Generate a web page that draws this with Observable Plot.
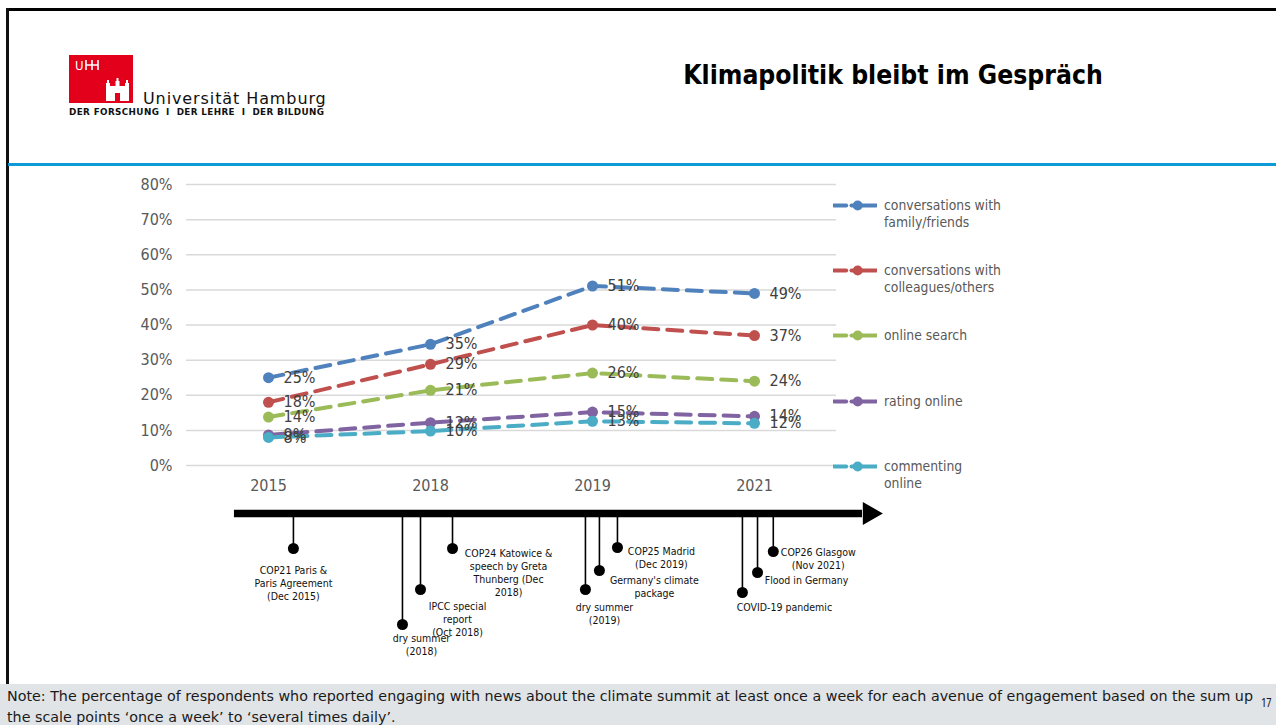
<!DOCTYPE html>
<html>
<head>
<meta charset="utf-8">
<script src="https://cdn.jsdelivr.net/npm/d3@7"></script>
<script src="https://cdn.jsdelivr.net/npm/@observablehq/plot@0.6"></script>
<style>
  html, body { margin: 0; padding: 0; background: #fff; }
  #slide { position: relative; width: 1276px; height: 725px; overflow: hidden; background: #fff;
           font-family: "DejaVu Sans Condensed", "DejaVu Sans", sans-serif; font-stretch: condensed; }
  .abs { position: absolute; }
  #topBorder { left: 6px; top: 8px; width: 1270px; height: 3px; background: #000; }
  #leftBorder { left: 6px; top: 8px; width: 2.5px; height: 676px; background: #111; }
  #blueRule { left: 8px; top: 163px; width: 1268px; height: 3px; background: #0e9ad7; }
  #footer { left: 0; top: 684px; width: 1276px; height: 41px; background: #e1e4e7; }
  #note { left: 7px; top: 686px; width: 1260px; font-size: 14.5px; line-height: 21px; color: #1a1a1a; white-space: nowrap; }
  #note span { display: inline-block; transform-origin: 0 50%; }
  #pageNo { left: 1261px; top: 694px; font-size: 12.5px; color: #1a1a1a; font-family: "Open Sans", sans-serif; }
  #title { left: 560px; top: 60px; width: 666px; text-align: center; font-size: 26.3px; font-weight: bold; color: #000; }
  #logoBox { left: 69px; top: 55px; width: 64px; height: 48px; background: #e2001a; }
  #uni { left: 143px; top: 89px; font-size: 16px; letter-spacing: 0.9px; color: #111; font-family: "DejaVu Sans", sans-serif; font-stretch: normal; }
  #motto { left: 69px; top: 107px; font-size: 8.8px; font-weight: bold; letter-spacing: 0.38px; color: #111; font-family: "DejaVu Sans", sans-serif; font-stretch: normal; white-space: nowrap; }
  .legendItem { position: absolute; left: 833px; display: flex; align-items: flex-start; }
  .legendText { font-size: 13.8px; line-height: 17px; color: #595959; margin-left: 7px; white-space: pre; }
  #mainChart { left: 0; top: 170px; }
  #timeline { left: 0; top: 500px; }
</style>
</head>
<body>
<div id="slide">
  <div id="topBorder" class="abs"></div>
  <div id="leftBorder" class="abs"></div>
  <div id="blueRule" class="abs"></div>
  <div id="logoBox" class="abs">
    <svg width="64" height="48" viewBox="0 0 64 48">
      <text x="6" y="15" fill="#fff" font-size="13" font-family="DejaVu Sans" letter-spacing="-0.5">U</text>
      <path d="M17 5 v10 M17 10 h12 M23 5 v10 M29 5 v10" stroke="#fff" stroke-width="1.6" fill="none"/>
      <g fill="#fff">
        <rect x="37" y="31" width="23" height="15"/>
        <rect x="37" y="28" width="4" height="4"/><rect x="46.5" y="26" width="4" height="6"/><rect x="56" y="28" width="4" height="4"/>
        <rect x="38" y="25" width="2" height="3"/><rect x="47.5" y="23" width="2" height="3"/><rect x="57" y="25" width="2" height="3"/>
      </g>
      <rect x="46" y="38" width="5" height="8" fill="#e2001a"/>
    </svg>
  </div>
  <div id="uni" class="abs">Universität Hamburg</div>
  <div id="motto" class="abs">DER FORSCHUNG &nbsp;I&nbsp; DER LEHRE &nbsp;I&nbsp; DER BILDUNG</div>
  <div id="title" class="abs">Klimapolitik bleibt im Gespräch</div>
  <div id="mainChart" class="abs"></div>
  <div id="timeline" class="abs"></div>
  <div id="legend"></div>
  <div id="footer" class="abs"></div>
  <div id="note" class="abs"><span id="noteL1">Note: The percentage of respondents who reported engaging with news about the climate summit at least once a week for each avenue of engagement based on the sum up</span><br><span id="noteL2">the scale points ‘once a week’ to ‘several times daily’.</span></div>
  <div id="pageNo" class="abs">17</div>
</div>
<script>
// ---------- data ----------
const years = ["2015", "2018", "2019", "2021"];
const seriesNames = [
  "conversations with family/friends",
  "conversations with colleagues/others",
  "online search",
  "rating online",
  "commenting online"
];
const legendLabels = [
  "conversations with\nfamily/friends",
  "conversations with\ncolleagues/others",
  "online search",
  "rating online",
  "commenting\nonline"
];
const familyFriends    = [25, 34.5, 51.1, 49];
const colleaguesOthers = [18, 28.8, 40, 37];
const onlineSearch     = [13.8, 21.4, 26.3, 24];
const ratingOnline     = [8.7, 12.2, 15.2, 14];
const commentingOnline = [8, 9.8, 12.6, 12];
const seriesColors = ["#4f81bd", "#c0504d", "#9bbb59", "#8064a2", "#4bacc6"];
const yTicks = [0, 10, 20, 30, 40, 50, 60, 70, 80];

// timeline events: position along the year axis (0 = 2015, 1 = 2018, 2 = 2019, 3 = 2021)
const eventLabels = [
  "COP21 Paris &\nParis Agreement\n(Dec 2015)",
  "dry summer\n(2018)",
  "IPCC special\nreport\n(Oct 2018)",
  "COP24 Katowice &\nspeech by Greta\nThunberg (Dec\n2018)",
  "dry summer\n(2019)",
  "Germany's climate\npackage",
  "COP25 Madrid\n(Dec 2019)",
  "COVID-19 pandemic",
  "Flood in Germany",
  "COP26 Glasgow\n(Nov 2021)"
];
const eventPositions = [0.158, 0.829, 0.94, 1.137, 1.955, 2.041, 2.152, 2.921, 3.014, 3.111];
const eventStemLengths = [35, 111, 76, 35, 76, 57, 34, 79, 59, 38];

// ---------- tables ----------
const allValues = [familyFriends, colleaguesOthers, onlineSearch, ratingOnline, commentingOnline];
const data = [];
seriesNames.forEach((s, si) => years.forEach((y, yi) => data.push({series: s, year: y, value: allValues[si][yi]})));
const events = eventLabels.map((label, i) => ({label, pos: eventPositions[i], stem: eventStemLengths[i]}));

const FONT = '"DejaVu Sans Condensed", "DejaVu Sans", sans-serif';
const color = {domain: seriesNames, range: seriesColors};

// ---------- main chart ----------
const main = Plot.plot({
  width: 860, height: 330,
  marginLeft: 186, marginRight: 24, marginTop: 14, marginBottom: 35,
  style: {fontFamily: FONT, fontSize: "16px", fontStretch: "condensed", background: "transparent", overflow: "visible"},
  x: {type: "point", domain: years, padding: 0.5},
  y: {domain: [0, 80]},
  color,
  marks: [
    Plot.gridY(yTicks, {stroke: "#d9d9d9", strokeOpacity: 1, strokeWidth: 1.5}),
    Plot.axisY(yTicks, {tickSize: 0, tickPadding: 14, tickFormat: d => d + "%", fill: "#595959", label: null}),
    Plot.axisX({tickSize: 0, tickPadding: 14, fill: "#595959", label: null}),
    Plot.line(data, {x: "year", y: "value", z: "series", stroke: "series", strokeWidth: 4, strokeDasharray: "15,9", strokeLinecap: "round"}),
    Plot.dot(data, {x: "year", y: "value", fill: "series", r: 5.5}),
    Plot.text(data, {x: "year", y: "value", text: d => Math.round(d.value) + "%", textAnchor: "start", dx: 15, dy: 0, fill: "#404040", fontSize: 16})
  ]
});
document.getElementById("mainChart").appendChild(main);

// ---------- timeline ----------
const labelLayout = [
  {dx: 0, dy: 16.5}, {dx: 19, dy: 8.5}, {dx: 37, dy: 11.5}, {dx: 56, dy: -0.5}, {dx: 19, dy: 12.5},
  {dx: 55, dy: 4.5}, {dx: 44, dy: -1.5}, {dx: 42, dy: 9.5}, {dx: 49, dy: 2.5}, {dx: 45, dy: -4.5}
];
const tl = Plot.plot({
  width: 900, height: 170,
  margin: 0,
  style: {fontFamily: FONT, fontSize: "10.5px", fontStretch: "condensed", background: "transparent", overflow: "visible"},
  x: {domain: [-0.5, 3.5], range: [186, 836], axis: null},
  y: {domain: [0, 150], range: [13, 163], axis: null},
  marks: [
    Plot.ruleY([0], {x1: -0.205, x2: 3.66, stroke: "#000", strokeWidth: 7.5}),
    Plot.dot([{x: 3.703, y: 0}], {x: "x", y: "y", symbol: "triangle", rotate: 90, r: 8.6, fill: "#000", stroke: null}),
    Plot.ruleX(events, {x: "pos", y1: 0, y2: "stem", stroke: "#000", strokeWidth: 1.6}),
    Plot.dot(events, {x: "pos", y: "stem", r: 5.5, fill: "#000"}),
    ...events.map((e, i) => Plot.text([e], {x: "pos", y: "stem", text: "label", dx: labelLayout[i].dx, dy: labelLayout[i].dy,
      textAnchor: "middle", lineAnchor: "top", lineHeight: 1.24, fill: "#111"}))
  ]
});
document.getElementById("timeline").appendChild(tl);

// ---------- legend ----------
const legendTops = [197, 262, 327, 393, 458];
const legendDiv = document.getElementById("legend");
seriesNames.forEach((s, i) => {
  const item = document.createElement("div");
  item.className = "legendItem";
  item.style.top = legendTops[i] + "px";
  const sym = Plot.plot({
    width: 44, height: 17, margin: 0,
    x: {domain: [0, 1], range: [0, 44], axis: null},
    y: {domain: [0, 1], range: [17, 0], axis: null},
    style: {background: "transparent"},
    marks: [
      Plot.ruleY([0.53], {x1: 0.02, x2: 0.3, stroke: seriesColors[i], strokeWidth: 4, strokeLinecap: "round"}),
      Plot.ruleY([0.53], {x1: 0.42, x2: 0.98, stroke: seriesColors[i], strokeWidth: 4, strokeLinecap: "round"}),
      Plot.dot([0.55], {x: d => d, y: 0.53, r: 5, fill: seriesColors[i]})
    ]
  });
  const txt = document.createElement("div");
  txt.className = "legendText";
  txt.textContent = legendLabels[i];
  item.appendChild(sym);
  item.appendChild(txt);
  legendDiv.appendChild(item);
});

// fit the note's first line to the slide width, like the reference
const l1 = document.getElementById("noteL1"), l2 = document.getElementById("noteL2");
const k = 1246 / l1.getBoundingClientRect().width;
l1.style.transform = `scaleX(${k})`;
l2.style.transform = `scaleX(${k})`;
</script>
</body>
</html>
